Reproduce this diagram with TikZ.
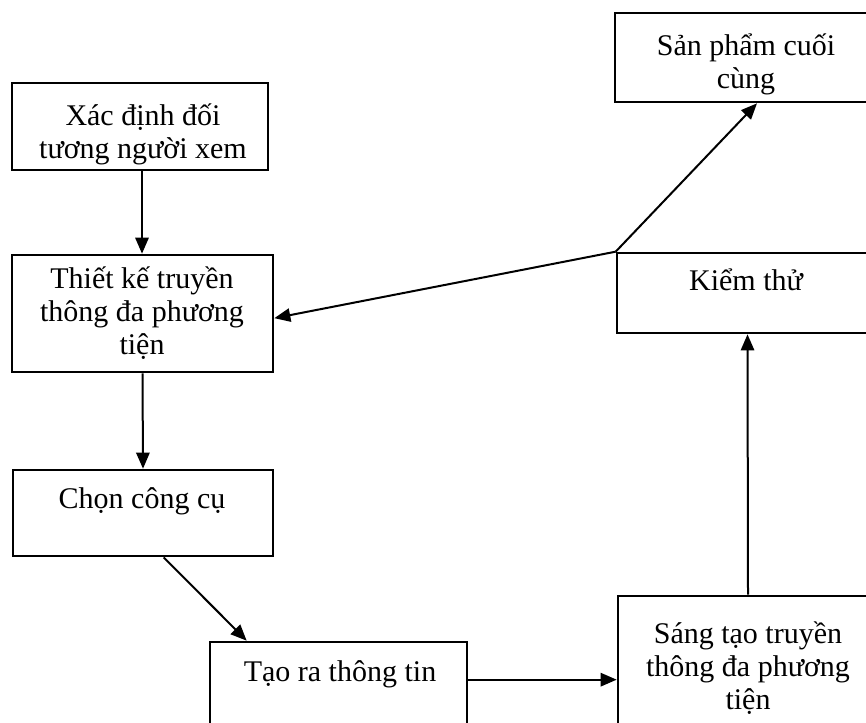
\documentclass[tikz,border=0pt]{standalone}
\usepackage{fontspec}
\setmainfont{Liberation Serif}
\usetikzlibrary{arrows.meta,fit}

\tikzset{
  procbox/.style={draw=black, line width=2pt, rectangle, inner sep=0pt},
  boxtext/.style={align=center, inner sep=0pt, font=\fontsize{22.5}{24.75}\selectfont},
  flow/.style={line width=1.5pt, -{Triangle[length=12pt,width=10pt]}},
}

\begin{document}
\begin{tikzpicture}[x=0.75pt, y=-0.75pt]
  % page area
  \path[use as bounding box, fill=white] (0,0) rectangle (866,722);
  \clip (0,0) rectangle (866,722);

  % process boxes (the right-hand column and the bottom run past the page edge)
  \node[procbox, fit={(12,83) (268,170)}]   (xac)   {};
  \node[procbox, fit={(12,255) (273,372)}]  (thiet) {};
  \node[procbox, fit={(13,470) (273,556)}]  (chon)  {};
  \node[procbox, fit={(210,642) (467,780)}] (tao)   {};
  \node[procbox, fit={(618,596) (878,780)}] (sang)  {};
  \node[procbox, fit={(617,253) (878,333)}] (kiem)  {};
  \node[procbox, fit={(615,13) (877,102)}]  (san)   {};

  % box captions (a multi-line caption sits on the baseline of its last line)
  \node[boxtext, anchor=base] (xacT)   at (143,158) {Xác định đối\\tương người xem};
  \node[boxtext, anchor=base] (thietT) at (142,354) {Thiết kế truyền\\thông đa phương\\tiện};
  \node[boxtext, anchor=base] (chonT)  at (142,508) {Chọn công cụ};
  \node[boxtext, anchor=base] (taoT)   at (340,681) {Tạo ra thông tin};
  \node[boxtext, anchor=base] (sangT)  at (748,709) {Sáng tạo truyền\\thông đa phương\\tiện};
  \node[boxtext, anchor=base] (kiemT)  at (746,290) {Kiểm thử};
  \node[boxtext, anchor=base] (sanT)   at (746,88)  {Sản phẩm cuối\\cùng};

  % connectors
  \draw[flow] ([xshift=1.5pt]xac.south) -- ([xshift=1.5pt]xac.south |- thiet.north);
  \draw[flow] (thiet.south) -- (chon.north);
  \draw[flow] ([xshift=114pt]chon.south west) -- ([xshift=28.5pt]tao.north west);
  \draw[flow] ([yshift=-29.25pt]tao.north east) coordinate (taoOut) -- (taoOut -| sang.west);
  \draw[flow] (sang.north) -- (kiem.south);
  \draw[flow] (kiem.north west) -- ([xshift=8.25pt]san.south);
  \draw[flow] (kiem.north west) -- ([yshift=-3.5pt]thiet.east);
\end{tikzpicture}
\end{document}
